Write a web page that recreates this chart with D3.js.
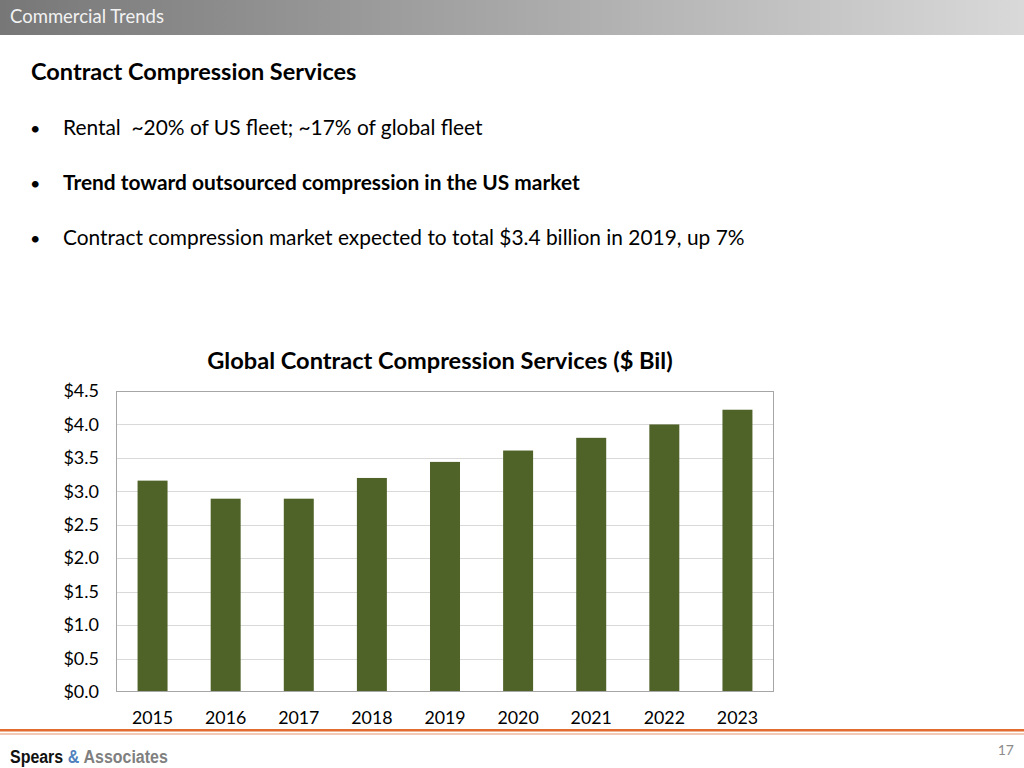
<!DOCTYPE html>
<html><head><meta charset="utf-8">
<script src="https://cdn.jsdelivr.net/npm/d3@7"></script>
<style>
html,body{margin:0;padding:0;background:#fff;}
svg{display:block;}
text{white-space:pre;}
</style></head>
<body>
<svg id="c" width="1024" height="768"></svg>
<script>
const years = ["2015","2016","2017","2018","2019","2020","2021","2022","2023"];
const values = [3.16, 2.89, 2.89, 3.20, 3.44, 3.61, 3.80, 4.00, 4.22];
const yTicks = [0,0.5,1.0,1.5,2.0,2.5,3.0,3.5,4.0,4.5];
const bullets = [
  {text:"Rental  ~20% of US fleet; ~17% of global fleet", bold:false},
  {text:"Trend toward outsourced compression in the US market", bold:true},
  {text:"Contract compression market expected to total $3.4 billion in 2019, up 7%", bold:false}
];

const svg = d3.select("#c");
const FONT = "Lato, 'Open Sans', sans-serif";

// header band
const defs = svg.append("defs");
const g = defs.append("linearGradient").attr("id","hdr").attr("x1","0").attr("x2","1");
g.append("stop").attr("offset","0").attr("stop-color","#777777");
g.append("stop").attr("offset","1").attr("stop-color","#d9d9d9");
svg.append("rect").attr("x",0).attr("y",0).attr("width",1024).attr("height",35).attr("fill","url(#hdr)");
svg.append("text").attr("x",10).attr("y",23).attr("font-family",FONT).attr("font-size",18.5)
  .attr("fill","#f2f2f2").text("Commercial Trends");

svg.append("text").attr("x",31).attr("y",80).attr("font-family",FONT).attr("font-size",23.5)
  .attr("font-weight","bold").attr("fill","#000").text("Contract Compression Services");

bullets.forEach((b,i)=>{
  const y = 135 + i*55;
  svg.append("text").attr("x",30).attr("y",y).attr("font-family",FONT).attr("font-size",18).text("•");
  svg.append("text").attr("x",63).attr("y",y).attr("font-family",FONT).attr("font-size",20.9)
    .attr("font-weight",b.bold?"bold":"normal").attr("fill","#000").text(b.text);
});

// chart
const L=116,R=774,T=391,B=692;
const x = d3.scaleBand().domain(years).range([L,R]).paddingInner(0.59).paddingOuter(0.295);
const y = d3.scaleLinear().domain([0,4.5]).range([B,T]);

svg.append("text").attr("x",440).attr("y",369).attr("text-anchor","middle").attr("font-family",FONT)
  .attr("font-size",23.6).attr("font-weight","bold").text("Global Contract Compression Services ($ Bil)");

const grid = svg.append("g");
grid.selectAll("line").data(yTicks.filter(d=>d>0&&d<4.5)).join("line")
  .attr("x1",L).attr("x2",R).attr("y1",d=>Math.round(y(d))+0.5).attr("y2",d=>Math.round(y(d))+0.5)
  .attr("stroke","#d9d9d9").attr("stroke-width",1);

svg.append("g").selectAll("rect").data(values).join("rect")
  .attr("x",(d,i)=>x(years[i])).attr("width",x.bandwidth())
  .attr("y",d=>y(d)).attr("height",d=>B-y(d)).attr("fill","#4f6228");

svg.append("rect").attr("x",L+0.5).attr("y",T+0.5).attr("width",R-L-1).attr("height",B-T-1)
  .attr("fill","none").attr("stroke","#a6a6a6").attr("stroke-width",1);

const yAxis = d3.axisLeft(y).tickValues(yTicks).tickSize(0).tickPadding(17)
  .tickFormat(d=>"$"+d3.format(".1f")(d));
const ya = svg.append("g").attr("transform",`translate(${L},0)`).call(yAxis);
ya.select(".domain").remove();
ya.selectAll("text").attr("font-family",FONT).attr("font-size",18).attr("fill","#000");

const xAxis = d3.axisBottom(x).tickSize(0).tickPadding(19);
const xa = svg.append("g").attr("transform",`translate(0,${B})`).call(xAxis);
xa.select(".domain").remove();
xa.selectAll("text").attr("font-family",FONT).attr("font-size",17.8).attr("fill","#000");

// footer
svg.append("rect").attr("x",0).attr("y",729).attr("width",1024).attr("height",2.5).attr("fill","#e26b2f");
svg.append("rect").attr("x",0).attr("y",733.5).attr("width",1024).attr("height",1).attr("fill","#e8916a");
const fg = svg.append("g").attr("transform","translate(10,763) scale(0.84,1)");
const ft = fg.append("text").attr("x",0).attr("y",0).attr("font-family","'Liberation Sans', sans-serif")
  .attr("font-size",19).attr("font-weight","bold");
ft.append("tspan").attr("fill","#111").text("Spears ");
ft.append("tspan").attr("fill","#4f81bd").text("& ");
ft.append("tspan").attr("fill","#7f7f7f").text("Associates");
svg.append("text").attr("x",1014).attr("y",755).attr("text-anchor","end").attr("font-family",FONT)
  .attr("font-size",14).attr("fill","#8c8c8c").text("17");
</script>
</body></html>
